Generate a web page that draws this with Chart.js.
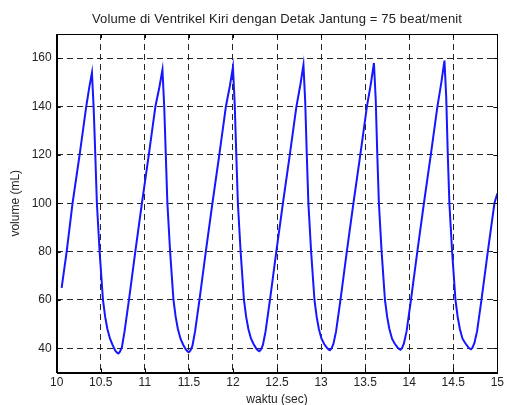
<!DOCTYPE html>
<html>
<head>
<meta charset="utf-8">
<title>Volume di Ventrikel Kiri</title>
<script src="https://cdn.jsdelivr.net/npm/chart.js@4/dist/chart.umd.min.js"></script>
<style>
  body { margin: 0; background: #fff; }
  #grafik { display: block; }
</style>
</head>
<body>
<canvas id="grafik" width="507" height="405"></canvas>
<script>
// waktu (sec) dan volume ventrikel kiri (mL), 75 beat/menit
const waktu = [
  10.056, 10.113, 10.18, 10.26, 10.335, 10.37,
  10.40, 10.42, 10.438, 10.456, 10.487, 10.525, 10.55, 10.575, 10.605, 10.635, 10.665, 10.685, 10.70, 10.718, 10.74, 10.77, 10.82, 10.892, 10.967, 11.045, 11.12, 11.165,
  11.20, 11.22, 11.238, 11.256, 11.287, 11.325, 11.35, 11.375, 11.405, 11.435, 11.465, 11.485, 11.50, 11.518, 11.54, 11.57, 11.62, 11.692, 11.767, 11.845, 11.92, 11.965,
  12.00, 12.02, 12.038, 12.056, 12.087, 12.125, 12.15, 12.175, 12.205, 12.235, 12.265, 12.285, 12.30, 12.318, 12.34, 12.37, 12.42, 12.492, 12.567, 12.645, 12.72, 12.765,
  12.80, 12.82, 12.838, 12.856, 12.887, 12.925, 12.95, 12.975, 13.005, 13.035, 13.065, 13.085, 13.10, 13.118, 13.14, 13.17, 13.22, 13.292, 13.367, 13.445, 13.52, 13.565,
  13.60, 13.62, 13.638, 13.656, 13.687, 13.725, 13.75, 13.775, 13.805, 13.835, 13.865, 13.885, 13.90, 13.918, 13.94, 13.97, 14.02, 14.092, 14.167, 14.245, 14.32, 14.365,
  14.40, 14.42, 14.438, 14.456, 14.487, 14.525, 14.55, 14.575, 14.605, 14.635, 14.665, 14.685, 14.70, 14.718, 14.74, 14.77, 14.82, 14.892, 14.967, 15.0
];
const volume = [
  65, 80, 100, 120, 140, 148,
  154, 139, 120, 100, 80, 60, 53, 48, 44, 41.3, 39, 38.2, 37.9, 38.6, 40.5, 47, 60, 80, 100, 120, 140, 148,
  155.2, 140, 120, 100, 80, 60, 53, 48, 44, 41.5, 39.5, 38.7, 38.4, 39.1, 41, 47, 60, 80, 100, 120, 140, 148.5,
  156.3, 141, 120, 100, 80, 60, 53, 48, 44, 41.7, 39.9, 39.1, 38.8, 39.5, 41.4, 47, 60, 80, 100, 120, 140, 149,
  157.2, 142, 120, 100, 80, 60, 53, 48, 44, 41.8, 40.3, 39.5, 39.2, 39.9, 41.8, 47, 60, 80, 100, 120, 140, 149.5,
  158, 143, 120, 100, 80, 60, 53, 48, 44, 42, 40.5, 39.7, 39.4, 40.1, 42, 47, 60, 80, 100, 120, 140, 150,
  159, 144, 120, 100, 80, 60, 53, 48, 44, 42.2, 40.7, 39.9, 39.6, 40.3, 42.2, 47, 60, 80, 100, 104
];
const xTicks = [10, 10.5, 11, 11.5, 12, 12.5, 13, 13.5, 14, 14.5, 15];
const yTicks = [40, 60, 80, 100, 120, 140, 160];

const judul = 'Volume di Ventrikel Kiri dengan Detak Jantung = 75 beat/menit';
const huruf = '"Liberation Sans", Arial, sans-serif';
const garisGrid = '#262626';

// judul, bingkai kotak dan tick kecil di sisi dalam
const bingkai = {
  id: 'bingkai',
  afterDraw(chart) {
    const { ctx, chartArea: a, scales } = chart;
    ctx.save();
    ctx.strokeStyle = '#000';
    ctx.lineWidth = 1;
    ctx.beginPath();
    xTicks.forEach(v => {
      const x = Math.round(scales.x.getPixelForValue(v)) + 0.5;
      ctx.moveTo(x, a.top); ctx.lineTo(x, a.top + 4);
      ctx.moveTo(x, a.bottom); ctx.lineTo(x, a.bottom - 4);
    });
    yTicks.forEach(v => {
      const y = Math.round(scales.y.getPixelForValue(v)) + 0.5;
      ctx.moveTo(a.left, y); ctx.lineTo(a.left + 4, y);
      ctx.moveTo(a.right, y); ctx.lineTo(a.right - 4, y);
    });
    ctx.stroke();
    ctx.strokeRect(Math.round(a.left) + 0.5, Math.round(a.top) + 0.5,
      Math.round(a.right) - Math.round(a.left), Math.round(a.bottom) - Math.round(a.top));

    ctx.fillStyle = '#222';
    ctx.font = '13px ' + huruf;
    ctx.letterSpacing = '0.15px';
    ctx.textAlign = 'center';
    ctx.textBaseline = 'middle';
    ctx.fillText(judul, (a.left + a.right) / 2, 19);
    ctx.restore();
  }
};

const ctx = document.getElementById('grafik').getContext('2d');
new Chart(ctx, {
  type: 'line',
  data: {
    datasets: [{
      data: waktu.map((t, i) => ({ x: t, y: volume[i] })),
      borderColor: 'rgb(22, 22, 255)',
      borderWidth: 2,
      pointRadius: 0,
      tension: 0,
      fill: false
    }]
  },
  options: {
    responsive: false,
    animation: false,
    devicePixelRatio: 1,
    layout: { padding: { left: 0, right: 7.7, top: 34, bottom: 0 } },
    plugins: {
      legend: { display: false },
      title: { display: false },
      tooltip: { enabled: false }
    },
    scales: {
      x: {
        type: 'linear',
        min: 10,
        max: 15,
        afterBuildTicks: s => { s.ticks = xTicks.map(v => ({ value: v })); },
        afterFit: s => { s.height = 32.5; },
        grid: { color: garisGrid, lineWidth: 1, drawTicks: false },
        // garis grid putus-putus
        border: { display: true, color: '#000', dash: [6, 4] },
        ticks: {
          padding: 3,
          color: '#222',
          font: { family: huruf, size: 12 },
          maxRotation: 0,
          callback: v => String(v)
        },
        title: {
          display: true,
          text: 'waktu (sec)',
          color: '#222',
          font: { family: huruf, size: 12 },
          padding: { top: 0, bottom: -2 }
        }
      },
      y: {
        min: 30,
        max: 170,
        afterBuildTicks: s => { s.ticks = yTicks.map(v => ({ value: v })); },
        afterFit: s => { s.width = 56.7; },
        grid: { color: garisGrid, lineWidth: 1, drawTicks: false },
        border: { display: true, color: '#000', dash: [6, 4] },
        ticks: {
          padding: 5,
          color: '#222',
          font: { family: huruf, size: 12 },
          callback: v => String(v)
        },
        title: {
          display: true,
          text: 'volume (mL)',
          color: '#222',
          font: { family: huruf, size: 12 },
          padding: { top: 8, bottom: 0 }
        }
      }
    }
  },
  plugins: [bingkai]
});
</script>
</body>
</html>
